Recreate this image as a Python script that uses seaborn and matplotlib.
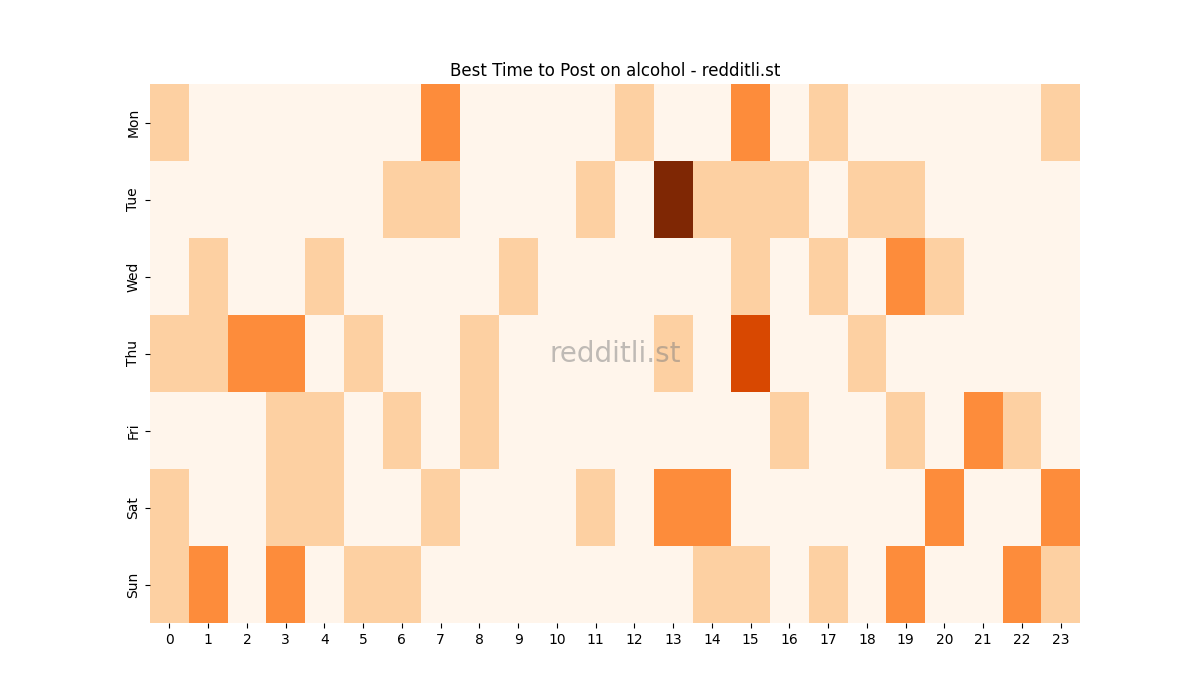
import matplotlib
matplotlib.use("Agg")
import matplotlib.pyplot as plt
import seaborn as sns
import numpy as np
import pandas as pd

days = ["Mon", "Tue", "Wed", "Thu", "Fri", "Sat", "Sun"]
hours = list(range(24))

mon = [1,0,0,0,0,0,0,2,0,0,0,0,1,0,0,2,0,1,0,0,0,0,0,1]
tue = [0,0,0,0,0,0,1,1,0,0,0,1,0,4,1,1,1,0,1,1,0,0,0,0]
wed = [0,1,0,0,1,0,0,0,0,1,0,0,0,0,0,1,0,1,0,2,1,0,0,0]
thu = [1,1,2,2,0,1,0,0,1,0,0,0,0,1,0,3,0,0,1,0,0,0,0,0]
fri = [0,0,0,1,1,0,1,0,1,0,0,0,0,0,0,0,1,0,0,1,0,2,1,0]
sat = [1,0,0,1,1,0,0,1,0,0,0,1,0,2,2,0,0,0,0,0,2,0,0,2]
sun = [1,2,0,2,0,1,1,0,0,0,0,0,0,0,1,1,0,1,0,2,0,0,2,1]

df = pd.DataFrame([mon, tue, wed, thu, fri, sat, sun], index=days, columns=hours)

fig, ax = plt.subplots(figsize=(12, 7), dpi=100)
sns.heatmap(df, cmap="Oranges", vmin=0, vmax=4, cbar=False, ax=ax)
ax.set_title("Best Time to Post on alcohol - redditli.st")
ax.set_yticklabels(days, rotation=90, va="center")
ax.set_xticklabels([str(h) for h in hours], rotation=0)
ax.text(0.5, 0.5, "redditli.st", transform=ax.transAxes, ha="center", va="center",
        fontsize=20, color="gray", alpha=0.5)
fig.savefig("out.png", dpi=100)
